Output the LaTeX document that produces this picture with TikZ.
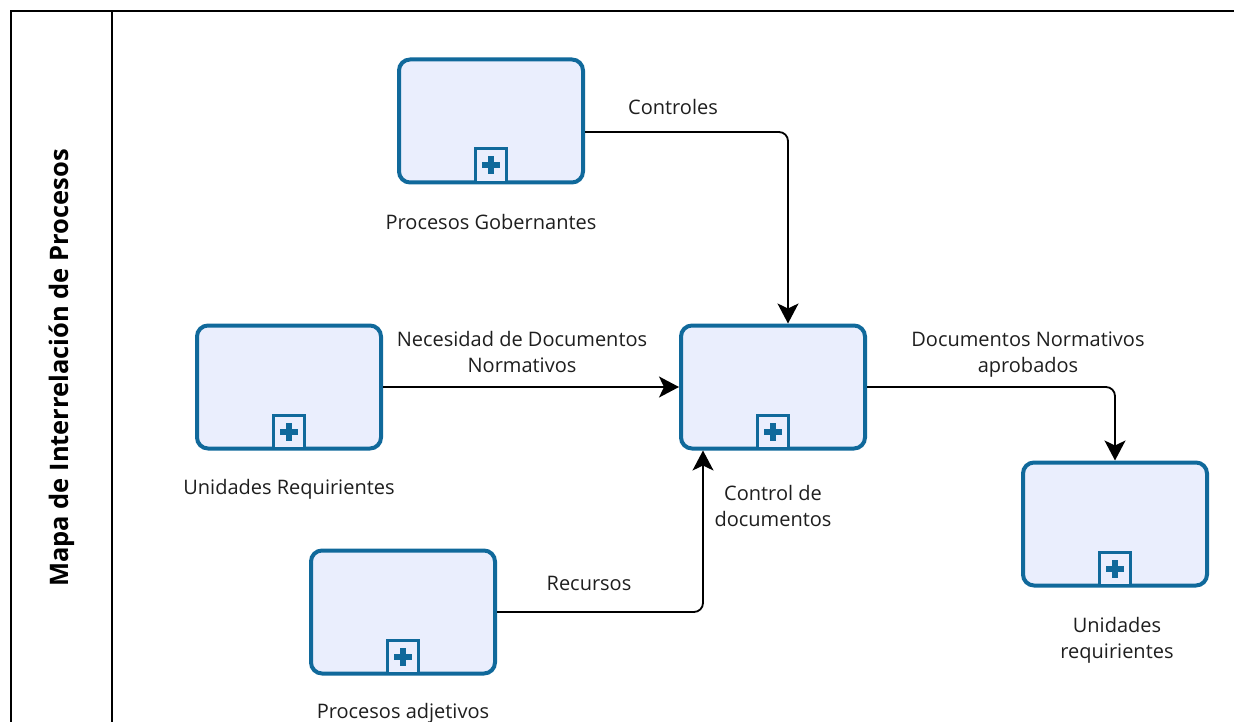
\documentclass[tikz,border=0pt]{standalone}
\usepackage{fontspec}
\setmainfont{Open Sans}
\usetikzlibrary{arrows.meta,calc}
\definecolor{taskblue}{RGB}{16,105,155}
\definecolor{taskfill}{RGB}{234,238,253}
\definecolor{inktext}{RGB}{30,30,30}
\tikzset{
  task/.style={draw=taskblue, fill=taskfill, line width=4pt, rounded corners=11pt,
    minimum width=184pt, minimum height=123pt, inner sep=0pt},
  lbl/.style={text=inktext, font=\fontsize{20}{26}\selectfont, align=center, inner sep=0pt},
  flow/.style={draw=black, line width=1.8pt, rounded corners=9pt,
    -{Stealth[length=20pt,width=21pt,inset=5pt]}},
  frame/.style={draw=black, line width=2pt},
}
% collapsed sub-process marker at the bottom centre of a task
\newcommand\subprocmark[1]{%
  \draw[taskblue, line width=3pt, fill=taskfill]
    ([shift={(-15.5pt,2pt)}]#1.south) rectangle ([shift={(15.5pt,35.5pt)}]#1.south);
  \fill[taskblue] ([shift={(-9pt,16pt)}]#1.south) rectangle ([shift={(9pt,22pt)}]#1.south);
  \fill[taskblue] ([shift={(-3pt,10pt)}]#1.south) rectangle ([shift={(3pt,28pt)}]#1.south);
}
\begin{document}
\begin{tikzpicture}[x=1pt, y=-1pt]
\useasboundingbox (0,0) rectangle (1234,722);

% pool frame and lane header
\draw[frame] (11,722) -- (11,11) -- (1234,11);
\draw[frame] (112,11) -- (112,722);
\node[rotate=90, font=\fontsize{25.5}{30}\selectfont\bfseries, text=black] (title) at (62,368)
  {Mapa de Interrelación de Procesos};

% tasks
\node[task] (gob) at (491,121) {};
\node[task] (unid) at (289,387) {};
\node[task] (ctl) at (773,387) {};
\node[task] (adj) at (403,612) {};
\node[task] (ur) at (1115,524) {};
\foreach \t in {gob,unid,ctl,adj,ur}{\subprocmark{\t}}

% task captions
\node[lbl] (gobL) at (491,222) {Procesos Gobernantes};
\node[lbl] (unidL) at (289,489) {Unidades Requirientes};
\node[lbl] (ctlL) at (773,506) {Control de\\documentos};
\node[lbl] (adjL) at (403,713) {Procesos adjetivos};
\node[lbl] (urL) at (1117,640) {Unidades\\requirientes};

% flows
\draw[flow] ([yshift=-11pt]gob.east) -| ([xshift=15pt]ctl.north);
\draw[flow] (unid.east) -- (ctl.west);
\draw[flow] (ctl.east) -| (ur.north);
\draw[flow] (adj.east) -| ([xshift=-70pt]ctl.south);

% flow captions
\node[lbl] (fC) at (673,107) {Controles};
\node[lbl] (fN) at (522,352) {Necesidad de Documentos\\Normativos};
\node[lbl] (fD) at (1028,355) {Documentos Normativos\\aprobados};
\node[lbl] (fR) at (589,583) {Recursos};
\end{tikzpicture}
\end{document}
